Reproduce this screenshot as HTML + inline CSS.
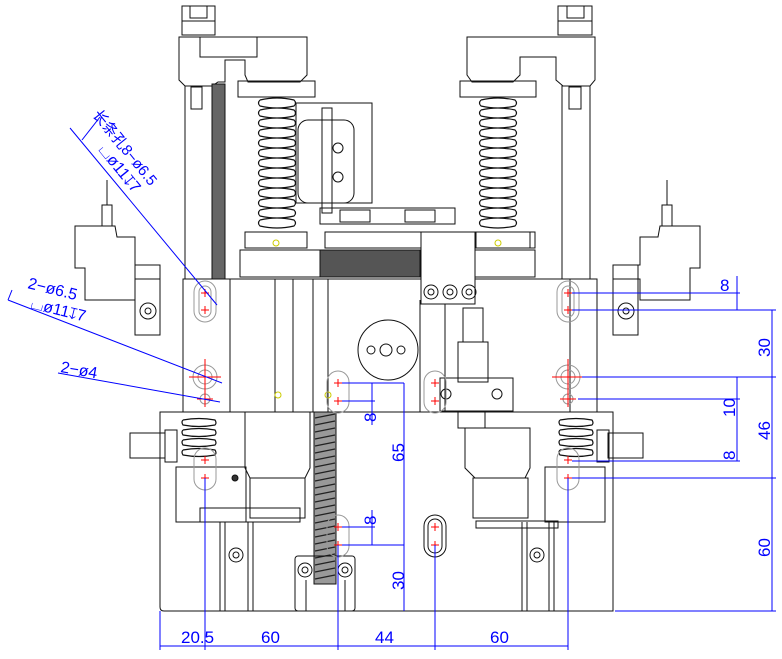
<!DOCTYPE html>
<html><head><meta charset="utf-8"><style>html,body{margin:0;padding:0;background:#fff}svg{display:block}</style></head><body>
<svg width="782" height="659" viewBox="0 0 782 659" xmlns="http://www.w3.org/2000/svg" font-family="Liberation Sans, Noto Sans CJK SC, sans-serif">
<g fill="none" stroke="#111" stroke-width="1">
<path d="M160 412 L160 607 Q160 611 164 611 L613 611 L613 412 Z"/>
<line x1="160" y1="412" x2="613" y2="412"/>
<rect x="183" y="279" width="414" height="133"/>
<line x1="230" y1="279" x2="230" y2="412"/><line x1="275" y1="279" x2="275" y2="412"/><line x1="293" y1="279" x2="293" y2="412"/>
<line x1="313" y1="279" x2="313" y2="412"/><line x1="328" y1="279" x2="328" y2="412"/>
<line x1="420" y1="300" x2="420" y2="412"/><line x1="445" y1="300" x2="445" y2="412"/><line x1="570" y1="279" x2="570" y2="412"/>
<rect x="182" y="6" width="33" height="29"/><line x1="182" y1="21" x2="215" y2="21"/><rect x="190" y="6" width="17" height="12"/>
<path d="M179 37 L307 37 L307 75 L300 82 L248 82 L245 75 L245 60 L225 60 L225 82 L218 82 L212 86 L185 86 L179 80 Z"/>
<rect x="200" y="37" width="57" height="20"/>
<rect x="185" y="86" width="27" height="193"/><rect x="191" y="87" width="11" height="22"/>
<rect x="212" y="84" width="13" height="195" fill="#666"/>
<rect x="238" y="81" width="77" height="16"/>
<g stroke-width="1.2"><path d="M260 100 q17 -4 34 0 q3 3 0 6 q-17 4 -34 0 q-3 -3 0 -6 M260 110 q17 -4 34 0 q3 3 0 6 q-17 4 -34 0 q-3 -3 0 -6 M260 120 q17 -4 34 0 q3 3 0 6 q-17 4 -34 0 q-3 -3 0 -6 M260 130 q17 -4 34 0 q3 3 0 6 q-17 4 -34 0 q-3 -3 0 -6 M260 140 q17 -4 34 0 q3 3 0 6 q-17 4 -34 0 q-3 -3 0 -6 M260 150 q17 -4 34 0 q3 3 0 6 q-17 4 -34 0 q-3 -3 0 -6 M260 160 q17 -4 34 0 q3 3 0 6 q-17 4 -34 0 q-3 -3 0 -6 M260 170 q17 -4 34 0 q3 3 0 6 q-17 4 -34 0 q-3 -3 0 -6 M260 180 q17 -4 34 0 q3 3 0 6 q-17 4 -34 0 q-3 -3 0 -6 M260 190 q17 -4 34 0 q3 3 0 6 q-17 4 -34 0 q-3 -3 0 -6 M260 200 q17 -4 34 0 q3 3 0 6 q-17 4 -34 0 q-3 -3 0 -6 M260 210 q17 -4 34 0 q3 3 0 6 q-17 4 -34 0 q-3 -3 0 -6 M260 220 q17 -4 34 0 q3 3 0 6 q-17 4 -34 0 q-3 -3 0 -6"/></g>
<rect x="245" y="232" width="62" height="16"/><circle cx="276" cy="243" r="3" stroke="#cc0"/>
<rect x="240" y="250" width="80" height="27"/>
<rect x="320" y="250" width="100" height="27" fill="#555"/>
<rect x="475" y="250" width="60" height="27"/>
<rect x="296" y="103" width="76" height="100"/><rect x="298" y="120" width="56" height="83" rx="10"/>
<rect x="322" y="108" width="10" height="105"/><circle cx="338" cy="148" r="5"/><circle cx="338" cy="177" r="5"/>
<rect x="320" y="208" width="135" height="16"/><rect x="340" y="210" width="30" height="12"/><rect x="405" y="210" width="30" height="12"/>
<rect x="325" y="232" width="210" height="16"/>
<rect x="421" y="232" width="54" height="72" fill="#fff"/>
<circle cx="431" cy="292" r="7"/><circle cx="450" cy="292" r="7"/><circle cx="469" cy="292" r="7"/>
<circle cx="431" cy="292" r="3"/><circle cx="450" cy="292" r="3"/><circle cx="469" cy="292" r="3"/>
<rect x="558" y="6" width="34" height="29"/><line x1="558" y1="21" x2="592" y2="21"/><rect x="567" y="6" width="17" height="12"/>
<path d="M467 37 L595 37 L595 80 L590 86 L563 86 L556 80 L556 57 L520 57 L520 75 L513 82 L472 82 L467 75 Z"/>
<rect x="562" y="86" width="28" height="193"/><rect x="569" y="87" width="12" height="22"/>
<rect x="460" y="81" width="76" height="16"/>
<g stroke-width="1.2"><path d="M481 100 q17 -4 34 0 q3 3 0 6 q-17 4 -34 0 q-3 -3 0 -6 M481 110 q17 -4 34 0 q3 3 0 6 q-17 4 -34 0 q-3 -3 0 -6 M481 120 q17 -4 34 0 q3 3 0 6 q-17 4 -34 0 q-3 -3 0 -6 M481 130 q17 -4 34 0 q3 3 0 6 q-17 4 -34 0 q-3 -3 0 -6 M481 140 q17 -4 34 0 q3 3 0 6 q-17 4 -34 0 q-3 -3 0 -6 M481 150 q17 -4 34 0 q3 3 0 6 q-17 4 -34 0 q-3 -3 0 -6 M481 160 q17 -4 34 0 q3 3 0 6 q-17 4 -34 0 q-3 -3 0 -6 M481 170 q17 -4 34 0 q3 3 0 6 q-17 4 -34 0 q-3 -3 0 -6 M481 180 q17 -4 34 0 q3 3 0 6 q-17 4 -34 0 q-3 -3 0 -6 M481 190 q17 -4 34 0 q3 3 0 6 q-17 4 -34 0 q-3 -3 0 -6 M481 200 q17 -4 34 0 q3 3 0 6 q-17 4 -34 0 q-3 -3 0 -6 M481 210 q17 -4 34 0 q3 3 0 6 q-17 4 -34 0 q-3 -3 0 -6 M481 220 q17 -4 34 0 q3 3 0 6 q-17 4 -34 0 q-3 -3 0 -6"/></g>
<rect x="476" y="232" width="54" height="16"/><circle cx="498" cy="243" r="3" stroke="#cc0"/>
<path d="M75 226 L115 226 L117 237 L135 237 L135 265 L160 265 L160 279 L135 279 L135 300 L85 300 L85 268 L75 268 Z"/>
<rect x="102" y="205" width="10" height="21"/><line x1="107" y1="180" x2="107" y2="205"/>
<rect x="135" y="265" width="25" height="70"/><circle cx="148" cy="311" r="8"/><circle cx="148" cy="311" r="3"/>
<path d="M700 226 L660 226 L658 237 L640 237 L640 265 L613 265 L613 279 L640 279 L640 300 L690 300 L690 268 L700 268 Z"/>
<rect x="662" y="205" width="10" height="21"/><line x1="667" y1="180" x2="667" y2="205"/>
<rect x="613" y="265" width="25" height="70"/><circle cx="626" cy="311" r="8"/><circle cx="626" cy="311" r="3"/>
<circle cx="388" cy="350" r="30"/><circle cx="371" cy="350" r="4"/><circle cx="386" cy="350" r="6"/><circle cx="401" cy="350" r="4"/>
<rect x="458" y="342" width="30" height="40"/><rect x="463" y="308" width="20" height="34"/>
<rect x="440" y="378" width="73" height="33"/><circle cx="446" cy="394" r="5"/><circle cx="497" cy="394" r="5"/>
<rect x="458" y="412" width="27" height="16"/>
<path d="M465 428 L530 428 L530 468 L525 478 L475 478 L465 468 Z"/>
<rect x="473" y="478" width="55" height="40"/>
<rect x="476" y="521" width="82" height="7"/>
<path d="M245 412 L310 412 L310 468 L305 478 L250 478 L245 468 Z"/>
<rect x="250" y="478" width="55" height="40"/>
<rect x="200" y="508" width="100" height="14"/>
<rect x="176" y="467" width="70" height="55"/>
<rect x="130" y="433" width="35" height="25"/><rect x="165" y="430" width="12" height="32"/>
<rect x="608" y="433" width="35" height="25"/><rect x="597" y="430" width="12" height="32"/>
<rect x="545" y="467" width="60" height="55"/>
<g stroke-width="1.2"><path d="M183 420 q16 -3 32 0 q2 3 0 5 q-16 3 -32 0 q-2 -3 0 -5 M183 430 q16 -3 32 0 q2 3 0 5 q-16 3 -32 0 q-2 -3 0 -5 M183 440 q16 -3 32 0 q2 3 0 5 q-16 3 -32 0 q-2 -3 0 -5 M183 450 q16 -3 32 0 q2 3 0 5 q-16 3 -32 0 q-2 -3 0 -5 M560 420 q16 -3 32 0 q2 3 0 5 q-16 3 -32 0 q-2 -3 0 -5 M560 430 q16 -3 32 0 q2 3 0 5 q-16 3 -32 0 q-2 -3 0 -5 M560 440 q16 -3 32 0 q2 3 0 5 q-16 3 -32 0 q-2 -3 0 -5 M560 450 q16 -3 32 0 q2 3 0 5 q-16 3 -32 0 q-2 -3 0 -5"/></g>
<circle cx="235" cy="478" r="3" fill="#333"/>
<line x1="220" y1="522" x2="220" y2="611"/><line x1="225" y1="522" x2="225" y2="611"/><line x1="248" y1="522" x2="248" y2="611"/><line x1="253" y1="522" x2="253" y2="611"/>
<circle cx="236" cy="555" r="7"/><circle cx="236" cy="555" r="3"/>
<line x1="522" y1="522" x2="522" y2="611"/><line x1="527" y1="522" x2="527" y2="611"/><line x1="549" y1="522" x2="549" y2="611"/><line x1="554" y1="522" x2="554" y2="611"/>
<circle cx="537" cy="555" r="7"/><circle cx="537" cy="555" r="3"/>
<rect x="314" y="412" width="22" height="172" fill="#999" stroke="#111"/>
<g stroke="#222" stroke-width="1.3"><path d="M315 418 l20 -4 M315 425 l20 -4 M315 432 l20 -4 M315 439 l20 -4 M315 446 l20 -4 M315 453 l20 -4 M315 460 l20 -4 M315 467 l20 -4 M315 474 l20 -4 M315 481 l20 -4 M315 488 l20 -4 M315 495 l20 -4 M315 502 l20 -4 M315 509 l20 -4 M315 516 l20 -4 M315 523 l20 -4 M315 530 l20 -4 M315 537 l20 -4 M315 544 l20 -4 M315 551 l20 -4 M315 558 l20 -4 M315 565 l20 -4 M315 572 l20 -4 M315 579 l20 -4"/></g>
<rect x="295" y="556" width="60" height="55" rx="3"/><line x1="306" y1="580" x2="306" y2="611"/><line x1="345" y1="580" x2="345" y2="611"/>
<circle cx="305" cy="570" r="7"/><circle cx="305" cy="570" r="3"/><circle cx="345" cy="570" r="7"/><circle cx="345" cy="570" r="3"/>
<circle cx="278" cy="395" r="3" stroke="#cc0"/><circle cx="328" cy="395" r="3" stroke="#cc0"/>
</g>
<g fill="none" stroke="#999" stroke-width="1">
<rect x="194" y="281" width="22" height="41" rx="11"/><rect x="199" y="286" width="12" height="31" rx="6"/>
<rect x="557" y="281" width="22" height="41" rx="11"/><rect x="562" y="286" width="12" height="31" rx="6"/>
<rect x="327" y="371" width="22" height="42" rx="11"/><rect x="424" y="371" width="22" height="42" rx="11"/>
<rect x="194" y="448" width="22" height="42" rx="11"/><rect x="557" y="448" width="22" height="42" rx="11"/>
<rect x="327" y="515" width="22" height="42" rx="11"/>
<circle cx="205" cy="377" r="12"/><circle cx="205" cy="377" r="7"/><circle cx="568" cy="377" r="12"/><circle cx="568" cy="377" r="7"/>
<circle cx="205" cy="399" r="5"/><circle cx="568" cy="399" r="5"/>
</g>
<g fill="none" stroke="#111"><rect x="424" y="515" width="22" height="42" rx="11"/><rect x="428" y="519" width="14" height="34" rx="7"/></g>
<g stroke="#f00" stroke-width="1"><path d="M201 293h8M205 289v8M201 310h8M205 306v8M564 293h8M568 289v8M564 310h8M568 306v8M334 383h8M338 379v8M334 401h8M338 397v8M431 383h8M435 379v8M431 401h8M435 397v8M201 460h8M205 456v8M201 478h8M205 474v8M564 460h8M568 456v8M564 478h8M568 474v8M334 527h8M338 523v8M334 545h8M338 541v8M431 527h8M435 523v8M431 545h8M435 541v8M189 377h32M205 359v36M552 377h32M568 359v36M197 399h16M205 391v16M560 399h16M568 391v16"/></g>
<g stroke="#00f" stroke-width="1" fill="none">
<path d="M572 293H740M572 310H776M582 377H776M578 399H740M572 461H740M572 478H776M615 611H776"/>
<path d="M737 276V310M737 377V461M772 310V611"/>
<path d="M342 383H375M342 401H375M372 383V425M342 527H375M342 545H404M372 510V545M404 383V611M342 383H404"/>
<path d="M160 611V650M205 478V650M338 545V650M435 545V650M568 478V650M160 646H568"/>
<path d="M70 128L217 305M82 140L100 117M8 300L222 383M8 300L12 290M58 373L220 402"/>
</g>
<g fill="#00f" font-size="17">
<text x="720" y="291">8</text>
<text x="181" y="643">20.5</text><text x="261" y="643">60</text><text x="375" y="643">44</text><text x="490" y="643">60</text>
<text transform="translate(770,357) rotate(-90)">30</text>
<text transform="translate(735,417) rotate(-90)">10</text>
<text transform="translate(770,440) rotate(-90)">46</text>
<text transform="translate(735,460) rotate(-90)">8</text>
<text transform="translate(770,557) rotate(-90)">60</text>
<text transform="translate(376,422) rotate(-90)">8</text>
<text transform="translate(376,525) rotate(-90)">8</text>
<text transform="translate(404,462) rotate(-90)">65</text>
<text transform="translate(404,590) rotate(-90)">30</text>
<text transform="translate(92,115) rotate(51)" font-size="15">长条孔8−ø6.5</text>
<text transform="translate(98,150) rotate(51)" font-size="16">⌴ø11↧7</text>
<text transform="translate(27,288) rotate(14)" font-size="16">2−ø6.5</text>
<text transform="translate(30,308) rotate(14)" font-size="16">⌴ø11↧7</text>
<text transform="translate(60,372) rotate(10)" font-size="16">2−ø4</text>
</g>
</svg>
</body></html>
